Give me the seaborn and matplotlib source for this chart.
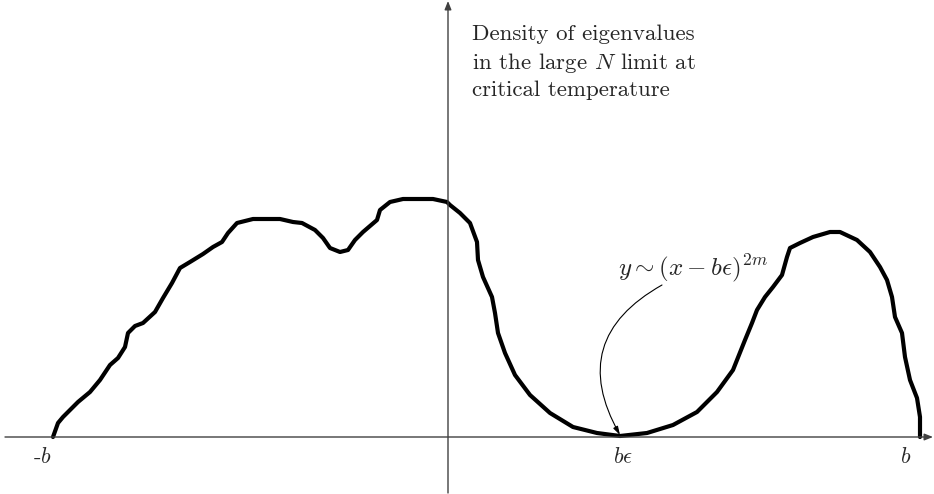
import numpy as np
import pandas as pd
import matplotlib.pyplot as plt
import seaborn as sns

# density curve (x right of the vertical axis, y above the horizontal axis)
curve_x = [-395, -390, -385, -370, -358, -348, -338, -330, -323, -320, -313, -305,
           -293, -285, -276, -268, -258, -245, -235, -226, -220, -211, -195, -168,
           -155, -146, -133, -125, -118, -108, -100, -93, -85, -71, -68, -58, -45,
           -15, -1, 2, 12, 22, 29, 30, 35, 44, 47,
           50, 57, 67, 82, 102, 125, 149, 172, 199, 225, 249, 269, 285, 297,
           304, 309, 317, 325, 334, 339, 342, 352,
           365, 382, 392, 409, 422, 432, 439, 444, 447, 454, 457, 462, 469, 472, 472]
curve_y = [0, 14, 20, 35, 45, 57, 72, 79, 90, 104, 111, 114,
           125, 139, 154, 169, 175, 183, 190, 195, 204, 214, 218, 218,
           215, 214, 207, 199, 189, 185, 187, 197, 205, 217, 227, 235, 238,
           238, 235, 232, 224, 214, 195, 177, 160, 140, 124,
           104, 84, 62, 42, 24, 10, 4, 1, 4, 12, 25, 45, 67, 97,
           114, 127, 140, 150, 162, 180, 189, 194,
           200, 205, 205, 197, 185, 170, 157, 140, 120, 104, 80, 57, 39, 20, 0]

tick_x = [-415, 165, 452]
tick_labels = ["-$b$", r"$b\epsilon$", "$b$"]

sns.set_style("white")
plt.rcParams["font.family"] = ["cmr10", "DejaVu Serif"]
plt.rcParams["mathtext.fontset"] = "cm"
plt.rcParams["axes.unicode_minus"] = False

df = pd.DataFrame({"x": curve_x, "y": curve_y})

fig = plt.figure(figsize=(9.34, 4.94), dpi=100)
ax = fig.add_axes([0, 0, 1, 1])

axis_col = "#404040"
# coordinate axes with arrow heads
ax.annotate("", xy=(485, 0), xytext=(-443, 0),
            arrowprops=dict(arrowstyle="-|>,head_length=0.5,head_width=0.2",
                            lw=1.0, color=axis_col, shrinkA=0, shrinkB=0))
ax.annotate("", xy=(0, 436), xytext=(0, -56),
            arrowprops=dict(arrowstyle="-|>,head_length=0.5,head_width=0.2",
                            lw=1.0, color=axis_col, shrinkA=0, shrinkB=0))

sns.lineplot(data=df, x="x", y="y", sort=False, estimator=None,
             color="black", linewidth=3.0, ax=ax)
ax.set_xlim(-448, 486)
ax.set_ylim(-57, 437)
ax.axis("off")

for xv, lab in zip(tick_x, tick_labels):
    ax.text(xv, -10, lab, fontsize=16, ha="left", va="top")

ax.text(24, 413, "Density of eigenvalues\nin the large $N$ limit at\ncritical temperature",
        fontsize=16.5, ha="left", va="top", linespacing=1.4)

ax.annotate("", xy=(172, 2), xytext=(214, 152),
            arrowprops=dict(arrowstyle="-|>,head_length=0.5,head_width=0.15",
                            lw=0.8, color="black", shrinkA=0, shrinkB=0,
                            connectionstyle="arc3,rad=0.5"))
ax.text(170, 169, r"$y \sim (x - b\epsilon)^{2m}$", fontsize=18, ha="left", va="center")

plt.savefig("out.png", dpi=100)
plt.close()
